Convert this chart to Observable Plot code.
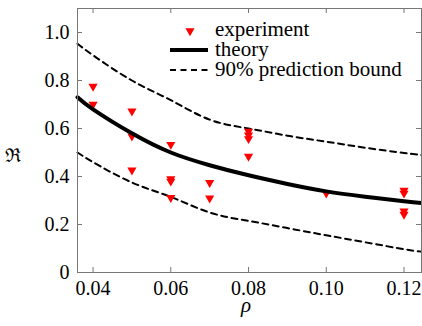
<!DOCTYPE html>
<html>
<head>
<meta charset="utf-8">
<script src="https://cdn.jsdelivr.net/npm/d3@7"></script>
<script src="https://cdn.jsdelivr.net/npm/@observablehq/plot@0.6"></script>
<style>
  html, body { margin: 0; padding: 0; background: #fff; }
  svg { display: block; }
</style>
</head>
<body>
<div id="chart"></div>
<script>
// Experimental points
const rho = [0.04, 0.04, 0.05, 0.05, 0.05, 0.06, 0.06, 0.06, 0.06, 0.07, 0.07, 0.08, 0.08, 0.08, 0.08, 0.10, 0.12, 0.12, 0.12, 0.12];
const R   = [0.775, 0.70, 0.672, 0.568, 0.426, 0.533, 0.39, 0.38, 0.312, 0.374, 0.31, 0.588, 0.572, 0.557, 0.484, 0.33, 0.342, 0.33, 0.256, 0.242];

// Theory curve and 90% prediction bounds
const curveX  = [0.036, 0.04, 0.05, 0.06, 0.07, 0.08, 0.09, 0.10, 0.11, 0.12, 0.1245];
const theoryY = [0.73, 0.68, 0.58, 0.50, 0.447, 0.405, 0.369, 0.338, 0.316, 0.297, 0.29];
const upperY  = [0.953, 0.905, 0.80, 0.718, 0.637, 0.60, 0.57, 0.545, 0.52, 0.498, 0.49];
const lowerY  = [0.50, 0.46, 0.375, 0.315, 0.25, 0.215, 0.185, 0.155, 0.126, 0.097, 0.087];

// Ticks
const xTicks = [0.04, 0.06, 0.08, 0.10, 0.12];
const xTickLabels = ["0.04", "0.06", "0.08", "0.10", "0.12"];
const yTicks = [0, 0.2, 0.4, 0.6, 0.8, 1.0];
const yTickLabels = ["0", "0.2", "0.4", "0.6", "0.8", "1.0"];

// Legend labels
const legendLabels = ["experiment", "theory", "90% prediction bound"];
const xLabel = "ρ";
const yLabel = "ℜ";

const points = rho.map((x, i) => ({x, y: R[i]}));
const curve = curveX.map((x, i) => ({x, theory: theoryY[i], upper: upperY[i], lower: lowerY[i]}));

const W = 422, H = 325;
const mt = 8, mr = 1, mb = 53, ml = 77;
const ph = H - mt - mb, pw = W - ml - mr;
const tickLen = 5;
const frameColor = "#777";
const font = "Liberation Serif";
const fs = 20;

const plot = Plot.plot({
  width: W,
  height: H,
  marginTop: mt,
  marginRight: mr,
  marginBottom: mb,
  marginLeft: ml,
  style: {fontFamily: font, fontSize: fs + "px"},
  x: {domain: [0.036, 0.1245]},
  y: {domain: [0, 1.1]},
  marks: [
    // inward ticks on all four sides
    Plot.ruleX(xTicks, {x: d => d, insetTop: ph - tickLen, stroke: frameColor}),
    Plot.ruleX(xTicks, {x: d => d, insetBottom: ph - tickLen, stroke: frameColor}),
    Plot.ruleY(yTicks, {y: d => d, insetRight: pw - tickLen, stroke: frameColor}),
    Plot.ruleY(yTicks, {y: d => d, insetLeft: pw - tickLen, stroke: frameColor}),
    Plot.line(curve, {x: "x", y: "upper", stroke: "#000", strokeWidth: 2, strokeDasharray: "6,4.5", curve: "natural"}),
    Plot.line(curve, {x: "x", y: "lower", stroke: "#000", strokeWidth: 2, strokeDasharray: "6,4.5", curve: "natural"}),
    Plot.dot(points, {x: "x", y: "y", symbol: "triangle", rotate: 180, fill: "#ff0000", stroke: "none", r: 3.4}),
    Plot.line(curve, {x: "x", y: "theory", stroke: "#000", strokeWidth: 4, curve: "natural"}),
    Plot.frame({stroke: frameColor}),
    Plot.axisX(xTicks, {tickSize: 0, tickPadding: 8, tickFormat: d => xTickLabels[xTicks.indexOf(d)], label: null}),
    Plot.axisY(yTicks, {tickSize: 0, tickPadding: 8, tickFormat: d => yTickLabels[yTicks.indexOf(d)], label: null})
  ]
});

document.getElementById("chart").appendChild(plot);

const svg = d3.select(plot);
svg.append("text")
  .attr("x", 246).attr("y", 312)
  .attr("text-anchor", "middle")
  .attr("font-family", font).attr("font-size", fs + 1).attr("font-style", "italic")
  .text(xLabel);
svg.append("text")
  .attr("x", 13).attr("y", 162)
  .attr("text-anchor", "middle")
  .attr("font-family", "DejaVu Serif").attr("font-size", 19)
  .text(yLabel);

const lg = svg.append("g");
lg.append("path")
  .attr("d", d3.symbol(d3.symbolTriangle, Math.PI * 3.4 * 3.4)())
  .attr("transform", "translate(190,31) rotate(180)")
  .attr("fill", "#ff0000");
lg.append("line").attr("x1", 170).attr("x2", 208).attr("y1", 50).attr("y2", 50)
  .attr("stroke", "#000").attr("stroke-width", 4);
lg.append("line").attr("x1", 170).attr("x2", 208).attr("y1", 70).attr("y2", 70)
  .attr("stroke", "#000").attr("stroke-width", 2).attr("stroke-dasharray", "6,4.5");
const baselines = [36, 56, 76];
legendLabels.forEach((t, i) => {
  lg.append("text")
    .attr("x", 215).attr("y", baselines[i])
    .attr("text-anchor", "start")
    .attr("font-family", font).attr("font-size", fs + 1)
    .attr("fill", "#000")
    .text(t);
});
</script>
</body>
</html>
